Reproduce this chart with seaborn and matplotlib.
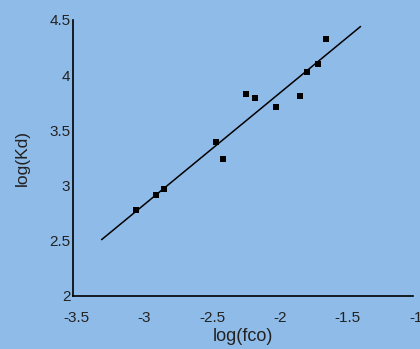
import pandas as pd
import matplotlib
matplotlib.use("Agg")
import matplotlib.pyplot as plt
import matplotlib.transforms as mtransforms
import seaborn as sns

# datos
log_fco = [-3.04, -2.89, -2.83, -2.45, -2.40, -2.23, -2.16, -2.01, -1.83, -1.78, -1.70, -1.64]
log_kd = [2.78, 2.91, 2.97, 3.39, 3.24, 3.83, 3.79, 3.71, 3.81, 4.03, 4.10, 4.33]

# recta de ajuste (extremos)
fit_x = [-3.29, -1.385]
fit_y = [2.51, 4.44]

x_ticks = [-3.5, -3, -2.5, -2, -1.5, -1]
y_ticks = [2, 2.5, 3, 3.5, 4, 4.5]

bg = "#8fbbe8"

sns.set_theme(style="white")
plt.rcParams['font.family'] = ['Liberation Sans', 'DejaVu Sans']

df = pd.DataFrame({"log(fco)": log_fco, "log(Kd)": log_kd})
fit = pd.DataFrame({"x": fit_x, "y": fit_y})

fig = plt.figure(figsize=(4.2, 3.49), dpi=100, facecolor=bg)
ax = fig.add_axes([0.174, 0.152, 0.809, 0.791], facecolor=bg)

sns.lineplot(data=fit, x="x", y="y", color="black", linewidth=1.1, ax=ax)
sns.scatterplot(data=df, x="log(fco)", y="log(Kd)", marker="s", s=22,
                color="black", edgecolor="black", linewidth=0, ax=ax, zorder=3)

ax.set_xlim(-3.5, -1)
ax.set_ylim(2, 4.5)
ax.set_xticks(x_ticks)
ax.set_xticklabels(["-3.5", "-3", "-2.5", "-2", "-1.5", "-1"])
ax.set_yticks(y_ticks)
ax.set_yticklabels(["2", "2.5", "3", "3.5", "4", "4.5"])
ax.tick_params(length=0, labelsize=11, colors="#222222")
ax.tick_params(axis="x", pad=11)
ax.tick_params(axis="y", pad=2)
ax.set_xlabel("log(fco)", fontsize=13, labelpad=2, color="#222222")
ax.set_ylabel("log(Kd)", fontsize=12.5, labelpad=14, color="#222222")

# etiquetas del eje x un poco a la derecha, como en el original
shift = mtransforms.ScaledTranslation(3 / 100, 0, fig.dpi_scale_trans)
for lbl in ax.get_xticklabels():
    lbl.set_transform(lbl.get_transform() + shift)

for side in ["top", "right"]:
    ax.spines[side].set_visible(False)
for side in ["left", "bottom"]:
    ax.spines[side].set_color("black")
    ax.spines[side].set_linewidth(1.2)

fig.savefig("out.png", dpi=100, facecolor=bg)
